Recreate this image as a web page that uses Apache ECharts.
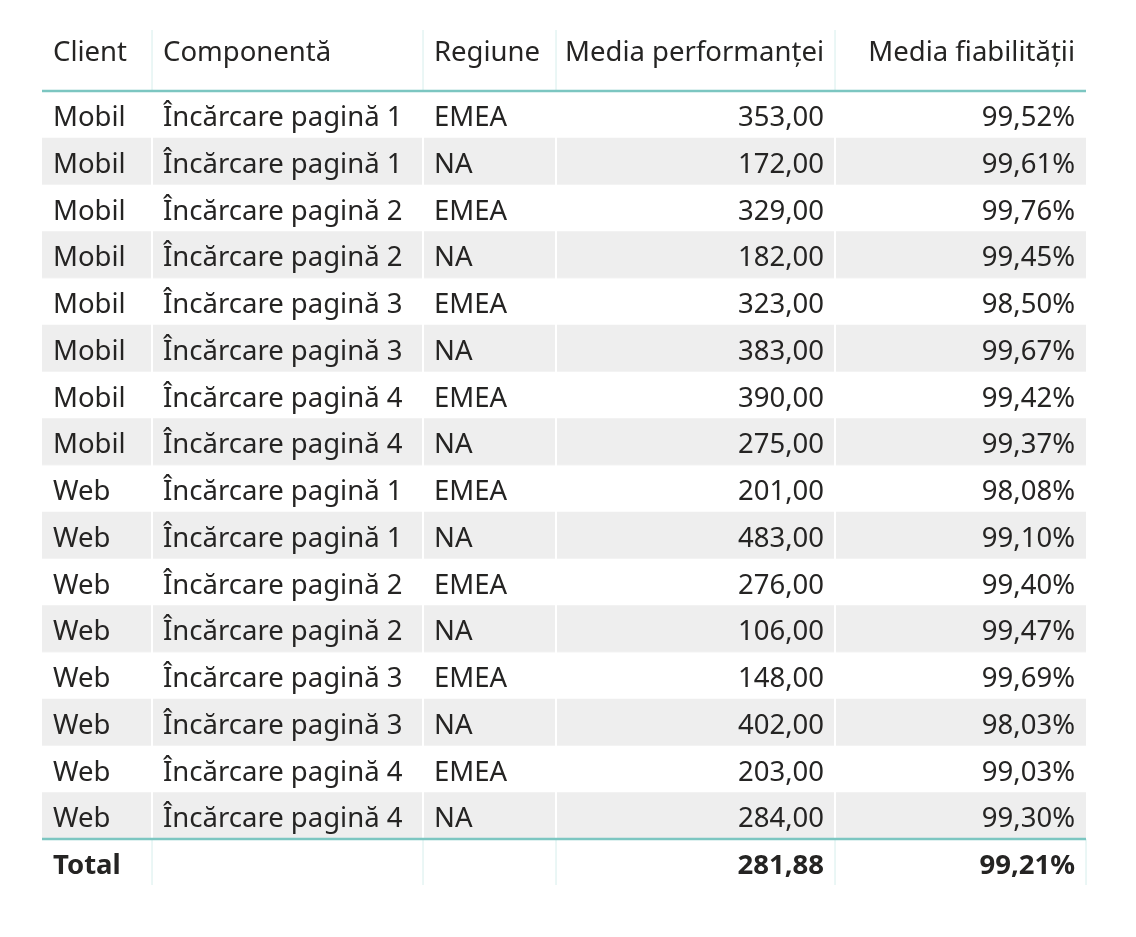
<!DOCTYPE html>
<html>
<head>
<meta charset="utf-8">
<script src="https://cdn.jsdelivr.net/npm/echarts@6/dist/echarts.min.js"></script>
<style>html,body{margin:0;padding:0;background:#fff}#main{width:1136px;height:937px}</style>
</head>
<body>
<div id="main"></div>
<script>
const headers = ['Client', 'Componentă', 'Regiune', 'Media performanței', 'Media fiabilității'];
const clients = ['Mobil','Mobil','Mobil','Mobil','Mobil','Mobil','Mobil','Mobil','Web','Web','Web','Web','Web','Web','Web','Web'];
const components = ['Încărcare pagină 1','Încărcare pagină 1','Încărcare pagină 2','Încărcare pagină 2','Încărcare pagină 3','Încărcare pagină 3','Încărcare pagină 4','Încărcare pagină 4','Încărcare pagină 1','Încărcare pagină 1','Încărcare pagină 2','Încărcare pagină 2','Încărcare pagină 3','Încărcare pagină 3','Încărcare pagină 4','Încărcare pagină 4'];
const regions = ['EMEA','NA','EMEA','NA','EMEA','NA','EMEA','NA','EMEA','NA','EMEA','NA','EMEA','NA','EMEA','NA'];
const performance = ['353,00','172,00','329,00','182,00','323,00','383,00','390,00','275,00','201,00','483,00','276,00','106,00','148,00','402,00','203,00','284,00'];
const reliability = ['99,52%','99,61%','99,76%','99,45%','98,50%','99,67%','99,42%','99,37%','98,08%','99,10%','99,40%','99,47%','99,69%','98,03%','99,03%','99,30%'];
const totals = ['Total', '', '', '281,88', '99,21%'];

// column edges
const colX = [42, 152, 423, 556, 835, 1086];
const align = ['left', 'left', 'left', 'right', 'right'];
const headTop = 30, headBottom = 91, rowH = 46.75;
const font = '"Noto Sans", "Open Sans", sans-serif';
const textColor = '#252423';

const els = [];
function cellText(col, yMid, txt, bold) {
  const x = align[col] === 'left' ? colX[col] + 11 : colX[col + 1] - 11;
  els.push({
    type: 'text', x: x, y: yMid,
    style: { text: txt, fill: textColor, font: (bold ? 'bold ' : '') + '27.5px ' + font,
      textAlign: align[col], textVerticalAlign: 'middle' }
  });
}

headers.forEach((h, c) => cellText(c, 53, h, false));
for (let c = 1; c < 5; c++) {
  els.push({ type: 'line', shape: { x1: colX[c], y1: headTop, x2: colX[c], y2: headBottom }, style: { stroke: '#d6eeec', lineWidth: 1 } });
}

const rows = clients.map((c, i) => [c, components[i], regions[i], performance[i], reliability[i]]);
rows.forEach((r, i) => {
  const top = headBottom + i * rowH;
  if (i % 2 === 1) {
    els.push({ type: 'rect', shape: { x: colX[0], y: top, width: colX[5] - colX[0], height: rowH }, style: { fill: '#eeeeee' } });
  } else if (i > 0) {
    els.push({ type: 'line', shape: { x1: colX[0], y1: top, x2: colX[5], y2: top }, style: { stroke: '#f3f3f3', lineWidth: 1 } });
  }
  r.forEach((t, c) => cellText(c, top + rowH / 2 + 4, t, false));
});

const bodyBottom = headBottom + rows.length * rowH;
for (let c = 1; c < 5; c++) {
  els.push({ type: 'line', shape: { x1: colX[c], y1: headBottom, x2: colX[c], y2: bodyBottom }, style: { stroke: '#ffffff', lineWidth: 2 } });
  els.push({ type: 'line', shape: { x1: colX[c], y1: bodyBottom, x2: colX[c], y2: bodyBottom + 46 }, style: { stroke: '#d6eeec', lineWidth: 1 } });
}
els.push({ type: 'line', shape: { x1: colX[5], y1: bodyBottom, x2: colX[5], y2: bodyBottom + 46 }, style: { stroke: '#d6eeec', lineWidth: 1 } });
els.push({ type: 'line', shape: { x1: colX[0], y1: headBottom, x2: colX[5], y2: headBottom }, style: { stroke: '#7cc6c1', lineWidth: 2.5 } });
els.push({ type: 'line', shape: { x1: colX[0], y1: bodyBottom, x2: colX[5], y2: bodyBottom }, style: { stroke: '#7cc6c1', lineWidth: 2.5 } });
totals.forEach((t, c) => { if (t) cellText(c, bodyBottom + 27, t, true); });

const chart = echarts.init(document.getElementById('main'));
chart.setOption({ animation: false, graphic: { elements: els } });
</script>
</body>
</html>
